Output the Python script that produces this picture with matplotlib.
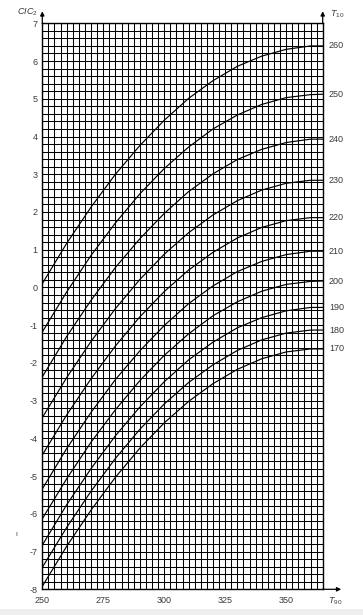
import numpy as np
import matplotlib
matplotlib.use("Agg")
import matplotlib.pyplot as plt
from matplotlib.patches import Rectangle

plt.rcParams['font.family'] = ['Liberation Sans', 'DejaVu Sans']
plt.rcParams['mathtext.fontset'] = 'custom'
plt.rcParams['mathtext.it'] = 'Liberation Sans:italic'
plt.rcParams['mathtext.rm'] = 'Liberation Sans'
plt.rcParams['axes.unicode_minus'] = False

# T90 positions (x) where curve values were read
t90 = [250, 260, 270, 280, 290, 300, 310, 320, 330, 340, 350, 360, 365]

# CIC2 values for each T10 curve
cic_260 = [0.10, 1.17, 2.13, 3.00, 3.76, 4.43, 5.01, 5.48, 5.86, 6.13, 6.31, 6.40, 6.40]
cic_250 = [-1.18, -0.12, 0.85, 1.71, 2.48, 3.15, 3.72, 4.20, 4.57, 4.85, 5.03, 5.11, 5.12]
cic_240 = [-2.37, -1.30, -0.34, 0.53, 1.29, 1.96, 2.54, 3.01, 3.39, 3.66, 3.84, 3.93, 3.93]
cic_230 = [-3.45, -2.39, -1.43, -0.56, 0.21, 0.88, 1.45, 1.92, 2.30, 2.58, 2.76, 2.84, 2.84]
cic_220 = [-4.44, -3.38, -2.42, -1.55, -0.78, -0.11, 0.46, 0.93, 1.31, 1.59, 1.77, 1.85, 1.85]
cic_210 = [-5.34, -4.27, -3.31, -2.44, -1.68, -1.01, -0.43, 0.04, 0.42, 0.69, 0.87, 0.96, 0.96]
cic_200 = [-6.13, -5.07, -4.10, -3.24, -2.47, -1.80, -1.23, -0.75, -0.38, -0.10, 0.08, 0.16, 0.17]
cic_190 = [-6.83, -5.76, -4.80, -3.93, -3.17, -2.50, -1.92, -1.45, -1.07, -0.80, -0.62, -0.53, -0.53]
cic_180 = [-7.42, -6.36, -5.40, -4.53, -3.76, -3.09, -2.52, -2.05, -1.67, -1.39, -1.21, -1.13, -1.13]
cic_170 = [-7.92, -6.86, -5.90, -5.03, -4.26, -3.59, -3.02, -2.55, -2.17, -1.89, -1.71, -1.63, -1.63]

t10_labels = ['260', '250', '240', '230', '220', '210', '200', '190', '180', '170']
curves = [cic_260, cic_250, cic_240, cic_230, cic_220, cic_210, cic_200, cic_190, cic_180, cic_170]

x_ticks = [250, 275, 300, 325, 350]
y_ticks = list(range(-8, 8))

W, H = 363, 615
fig = plt.figure(figsize=(W / 100, H / 100), dpi=100)
fig.patches.append(Rectangle((0, 0), 1, 6 / H, transform=fig.transFigure,
                             facecolor='#eeeeee', edgecolor='none'))

left, right, top, bottom = 42.3, 322.7, 23.3, 589.3
ax = fig.add_axes([left / W, 1 - bottom / H, (right - left) / W, (bottom - top) / H])
ax.set_xlim(250, 365)
ax.set_ylim(-8, 7)

ax.set_xticks(x_ticks)
ax.set_xticks(np.arange(250, 365.01, 2.5), minor=True)
ax.set_yticks(y_ticks)
ax.set_yticks(np.arange(-8, 7.001, 0.2), minor=True)
ax.grid(which='both', color='black', linewidth=0.75)
ax.set_axisbelow(True)
ax.tick_params(which='both', length=0, labelsize=6.5, labelcolor='#3a3a3a')
ax.tick_params(axis='x', pad=5)
ax.tick_params(axis='y', pad=3.5)
for s in ax.spines.values():
    s.set_color('black')
    s.set_linewidth(1.0)

for lab, vals in zip(t10_labels, curves):
    ax.plot(t90, vals, color='black', linewidth=0.85)
    ax.annotate(lab, xy=(1, vals[-1]), xycoords=('axes fraction', 'data'),
                xytext=(4.5, 0), textcoords='offset points', va='center', ha='left',
                fontsize=6.5, color='#3a3a3a', annotation_clip=False)

# axis arrows
ap = dict(arrowstyle='-|>', color='black', lw=0.9, mutation_scale=6, shrinkA=0, shrinkB=0)
ax.annotate('', xy=(0, 1 + 12 / (bottom - top)), xytext=(0, 1), xycoords='axes fraction',
            arrowprops=ap, annotation_clip=False)
ax.annotate('', xy=(1, 1 + 12 / (bottom - top)), xytext=(1, 1), xycoords='axes fraction',
            arrowprops=ap, annotation_clip=False)
ax.annotate('', xy=(1 + 18.5 / (right - left), 0), xytext=(1, 0), xycoords='axes fraction',
            arrowprops=ap, annotation_clip=False)

fig.text(38 / W, 1 - 12.5 / H, r'$CIC_{\mathrm{2}}$', fontsize=6.5, color='#3a3a3a',
         ha='right', va='center')
fig.text(330 / W, 1 - 14 / H, r'$T_{\mathrm{10}}$', fontsize=6.5, color='#3a3a3a',
         ha='left', va='center')
fig.text(328 / W, 1 - 601 / H, r'$T_{\mathrm{90}}$', fontsize=6.5, color='#3a3a3a',
         ha='left', va='center')
fig.text(16 / W, 1 - 535 / H, 'ı', fontsize=5, color='#333333', ha='center', va='center')

fig.savefig('out.png', dpi=100)
